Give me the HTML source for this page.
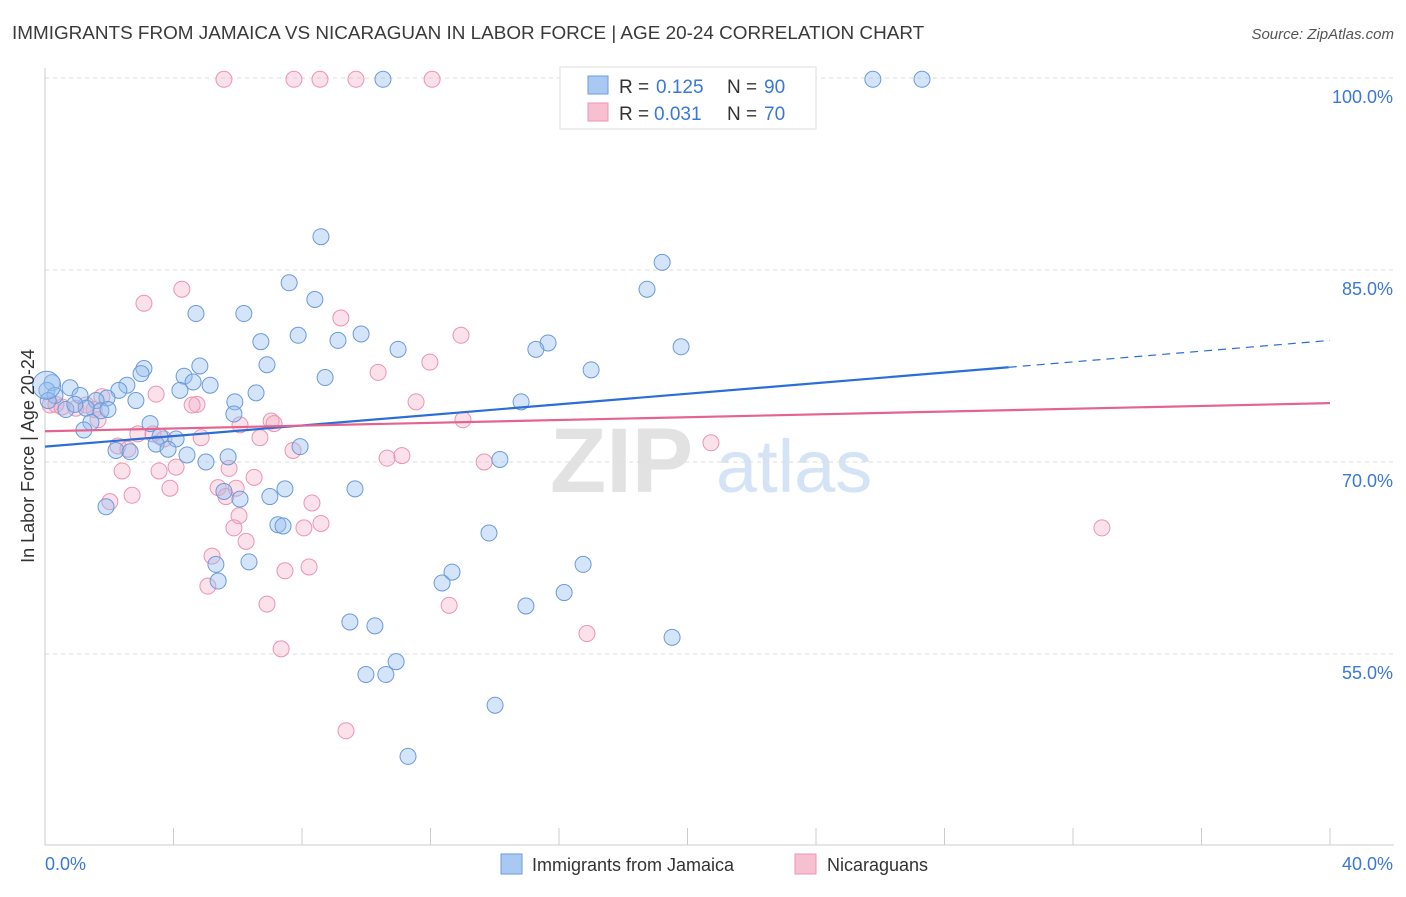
<!DOCTYPE html>
<html><head><meta charset="utf-8">
<style>
body{margin:0;background:#fff;font-family:"Liberation Sans",sans-serif;}
svg text{font-family:"Liberation Sans",sans-serif;}
</style></head>
<body>
<svg id="chart" width="1406" height="892" xmlns="http://www.w3.org/2000/svg">
<text x="12" y="39" font-size="18.9" fill="#3a3a3a">IMMIGRANTS FROM JAMAICA VS NICARAGUAN IN LABOR FORCE | AGE 20-24 CORRELATION CHART</text>
<text x="1394" y="39" font-size="15" fill="#555" font-style="italic" text-anchor="end">Source: ZipAtlas.com</text>
<g>
<text x="550" y="492" font-size="92" fill="#e2e2e2" font-family="Liberation Serif" font-weight="bold">ZIP</text>
<text x="716" y="492" font-size="74" fill="#d4e3f6">atlas</text>
</g>
<g id="grid"></g>
<g id="axes"></g>
<g id="pts"></g>
<g id="lines"></g>
<g>
<rect x="560" y="67" width="256" height="62" fill="#fff" stroke="#ddd"/>
<rect x="588" y="76" width="20" height="18" fill="#a9c9f2" stroke="#6d9be0"/>
<rect x="588" y="103" width="20" height="18" fill="#f7c0d0" stroke="#ec94b0"/>
<text x="619" y="93" font-size="19" fill="#333">R =</text>
<text x="656" y="93" font-size="19" fill="#3a78d6">0.125</text>
<text x="727" y="93" font-size="19" fill="#333">N =</text>
<text x="764" y="93" font-size="19" fill="#3a78d6">90</text>
<text x="619" y="120" font-size="19" fill="#333">R =</text>
<text x="654" y="120" font-size="19" fill="#3a78d6">0.031</text>
<text x="727" y="120" font-size="19" fill="#333">N =</text>
<text x="764" y="120" font-size="19" fill="#3a78d6">70</text>
</g>
<text transform="translate(34,456) rotate(-90)" font-size="18" fill="#333" text-anchor="middle">In Labor Force | Age 20-24</text>
<g>
<rect x="501" y="854" width="21" height="20" fill="#a9c9f2" stroke="#6d9be0"/>
<text x="532" y="871" font-size="18" fill="#333">Immigrants from Jamaica</text>
<rect x="795" y="854" width="21" height="20" fill="#f7c0d0" stroke="#ec94b0"/>
<text x="827" y="871" font-size="18" fill="#333">Nicaraguans</text>
</g>
</svg>
<script>
const yTicks=[55,70,85,100];
const yTickLabels=["55.0%","70.0%","85.0%","100.0%"];
const xTickLabels=["0.0%","40.0%"];
const blueX=[10.52,25.77,27.30,8.59,19.21,7.60,18.74,8.40,4.70,6.19,7.88,9.84,6.72,9.12,10.99,15.66,15.28,19.80,6.91,17.00,3.08,4.33,4.82,2.99,8.72,4.61,5.14,2.55,4.20,6.57,2.30,0.78,0.22,0.06,0.31,1.09,1.93,1.59,2.83,5.91,14.82,0.65,1.74,1.28,1.96,5.88,3.27,1.43,1.21,3.58,4.08,3.46,3.83,2.21,2.65,4.42,5.01,5.70,7.94,14.16,5.57,6.07,7.47,7.00,9.65,1.90,7.25,7.41,13.82,5.32,6.35,16.75,12.67,12.36,5.39,16.16,14.97,9.49,10.27,19.52,10.93,9.99,10.61,14.01,11.30,0.1,0.93];
const blueY=[99.9,99.9,99.9,87.6,85.6,84.0,83.5,82.7,81.6,81.6,79.9,80.0,79.4,79.5,78.8,79.3,78.8,79.0,77.6,77.2,77.3,76.7,77.5,76.9,76.6,76.25,76.0,76.0,75.6,75.4,75.6,75.8,76.2,75.6,75.2,75.2,75.0,74.8,74.8,74.7,74.7,74.1,74.0,74.2,74.1,73.75,73.0,73.1,72.5,72.0,71.8,71.4,71.0,70.9,70.8,70.55,70.0,70.4,71.2,70.2,67.7,67.1,67.9,67.3,67.9,66.5,65.1,65.0,64.45,62.0,62.2,62.0,61.4,60.55,60.7,59.8,58.75,57.5,57.2,56.3,54.4,53.4,53.4,51.0,47.0,74.8,74.5];
const pinkX=[5.57,7.75,8.56,9.68,12.05,20.95,4.26,3.08,9.21,12.95,10.37,11.98,11.55,13.01,3.46,1.77,4.73,4.58,0.16,0.34,0.53,0.96,1.53,1.28,1.65,7.04,7.13,6.07,6.69,4.86,2.89,3.36,3.70,2.27,2.58,7.72,10.65,11.11,13.67,20.73,2.40,3.55,4.08,5.73,6.51,5.39,3.89,2.71,2.02,8.31,8.59,6.04,5.88,8.06,5.20,6.26,5.07,7.47,8.22,6.91,12.58,16.87,7.35,9.37,32.90,5.95,5.63];
const pinkY=[99.9,99.9,99.9,99.9,99.9,99.9,83.5,82.4,81.25,79.9,77.0,77.8,74.7,73.3,75.3,75.1,74.5,74.45,74.45,74.5,74.3,74.2,74.1,74.45,73.3,73.2,73.0,72.9,71.9,71.9,72.2,72.2,71.8,71.25,71.0,70.9,70.3,70.5,70.0,71.5,69.3,69.3,69.6,69.5,68.8,68.0,67.95,67.4,66.9,66.8,65.2,65.8,64.85,64.85,62.65,63.8,60.3,61.5,61.8,58.9,58.8,56.6,55.4,49.0,64.85,67.95,67.3];
const blueLine=[0,71.2,30,77.4,40,79.5];
const pinkLine=[0,72.4,40,74.6];

const NS="http://www.w3.org/2000/svg";
const X=v=>45+v*32.125, Y=v=>78+(100-v)*12.8;
function mk(tag,attrs,parent){const e=document.createElementNS(NS,tag);for(const k in attrs)e.setAttribute(k,attrs[k]);parent.appendChild(e);return e;}
const grid=document.getElementById('grid'),axes=document.getElementById('axes');
yTicks.forEach((t,i)=>{
  const l=mk('line',{x1:45,x2:1394,y1:Y(t),y2:Y(t),stroke:'#ddd','stroke-dasharray':'4,4'},grid);
  
  
  const tx=mk('text',{x:1393,y:Y(t)+25,'font-size':18,fill:'#3a78d6','text-anchor':'end'},axes);
  tx.textContent=yTickLabels[i];
  
  
});
mk('line',{x1:45,x2:45,y1:68,y2:845,stroke:'#ccc'},axes);
mk('line',{x1:45,x2:1394,y1:845,y2:845,stroke:'#ccc'},axes);
for(let i=1;i<=10;i++){const t=mk('line',{x1:X(i*4),x2:X(i*4),y1:828,y2:845,stroke:'#ccc'},axes);
  
  }
const xl0=mk('text',{x:45,y:870,'font-size':18,fill:'#3a78d6'},axes);xl0.textContent=xTickLabels[0];


const xl1=mk('text',{x:1393,y:870,'font-size':18,fill:'#3a78d6','text-anchor':'end'},axes);xl1.textContent=xTickLabels[1];


const pts=document.getElementById('pts');


pinkX.forEach((v,i)=>{const c=mk('circle',{cx:X(v),cy:Y(pinkY[i]),r:8,fill:'rgba(244,170,195,0.35)',stroke:'#ec94b0','stroke-width':1},pts);
  
  });
blueX.forEach((v,i)=>{const c=mk('circle',{cx:X(v),cy:Y(blueY[i]),r:8,fill:'rgba(150,190,240,0.4)',stroke:'#6a9ada','stroke-width':1},pts);
  
  });
const big=mk('circle',{cx:X(0.05),cy:Y(76.0),r:14,fill:'rgba(150,190,240,0.4)',stroke:'#6a9ada','stroke-width':1},pts);


const lines=document.getElementById('lines');
const b1=mk('line',{x1:X(blueLine[0]),y1:Y(blueLine[1]),x2:X(blueLine[2]),y2:Y(blueLine[3]),stroke:'#2b6fd6','stroke-width':2.2},lines);


const b2=mk('line',{x1:X(blueLine[2]),y1:Y(blueLine[3]),x2:X(blueLine[4]),y2:Y(blueLine[5]),stroke:'#2b6fd6','stroke-width':1.2,'stroke-dasharray':'8,6'},lines);


const p1=mk('line',{x1:X(pinkLine[0]),y1:Y(pinkLine[1]),x2:X(pinkLine[2]),y2:Y(pinkLine[3]),stroke:'#e4648e','stroke-width':2.2},lines);


</script>
</body></html>
